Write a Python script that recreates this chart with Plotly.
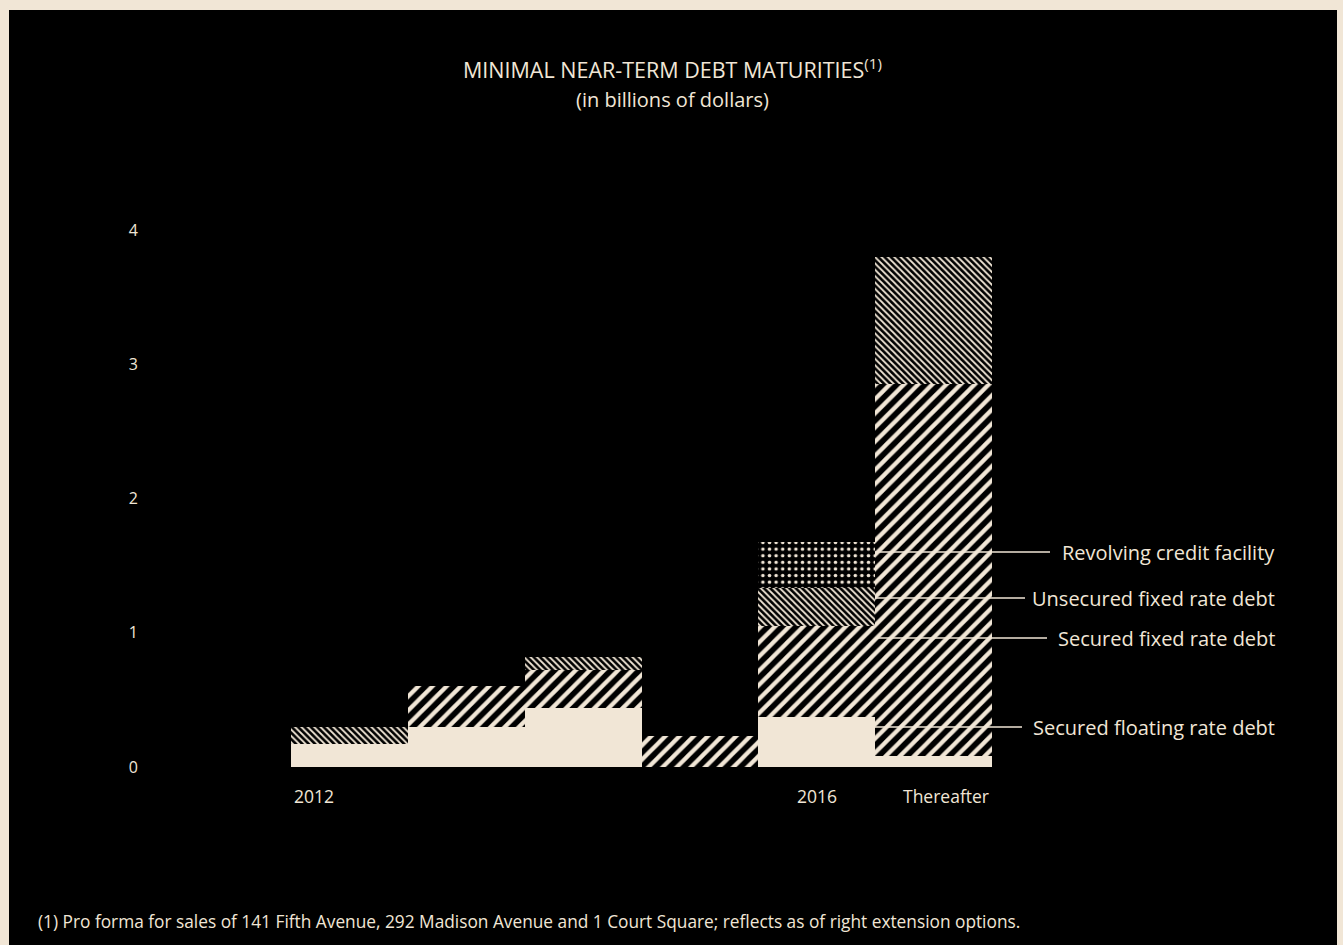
import plotly.graph_objects as go

# Debt maturity schedule, in billions of dollars
years = ["2012", "2013", "2014", "2015", "2016", "Thereafter"]
secured_floating = [0.17, 0.30, 0.44, 0.0, 0.37, 0.08]
secured_fixed = [0.0, 0.30, 0.28, 0.23, 0.68, 2.77]
unsecured_fixed = [0.13, 0.0, 0.10, 0.0, 0.28, 0.95]
revolving_credit = [0.0, 0.0, 0.0, 0.0, 0.35, 0.0]

series_names = [
    "Secured floating rate debt",
    "Secured fixed rate debt",
    "Unsecured fixed rate debt",
    "Revolving credit facility",
]
y_ticks = [0, 1, 2, 3, 4]

CREAM = "#F1E6D6"
BLACK = "#000000"
FONT = "Open Sans"

W, H = 1343, 945
L, R, T, B = 291, 351, 163, 178
PW, PH = W - L - R, H - T - B


def px_to_paper_x(px):
    return (px - L) / PW


def px_to_paper_y(py):
    return (H - B - py) / PH


fig = go.Figure()

fig.add_trace(go.Bar(
    x=years, y=secured_floating, name=series_names[0],
    marker=dict(color=CREAM, line=dict(width=0)),
))
fig.add_trace(go.Bar(
    x=years, y=secured_fixed, name=series_names[1],
    marker=dict(color=BLACK, line=dict(width=0),
                pattern=dict(shape="/", fgcolor=CREAM, bgcolor=BLACK,
                             size=10, solidity=0.42, fillmode="replace")),
))
fig.add_trace(go.Bar(
    x=years, y=unsecured_fixed, name=series_names[2],
    marker=dict(color=BLACK, line=dict(width=0),
                pattern=dict(shape="\\", fgcolor=CREAM, bgcolor=BLACK,
                             size=4.5, solidity=0.4, fillmode="replace")),
))
fig.add_trace(go.Bar(
    x=years, y=revolving_credit, name=series_names[3],
    marker=dict(color=BLACK, line=dict(width=0),
                pattern=dict(shape=".", fgcolor=CREAM, bgcolor=BLACK,
                             size=6.6, solidity=0.22, fillmode="replace")),
))

# Leader lines from the last column out to the series labels
label_rows = [
    (series_names[3], 552, 1050),
    (series_names[2], 598, 1025),
    (series_names[1], 638, 1047),
    (series_names[0], 727, 1022),
]
shapes = [
    # black panel inside the cream frame
    dict(type="rect", xref="paper", yref="paper", layer="below",
         x0=px_to_paper_x(9), x1=px_to_paper_x(1337),
         y0=px_to_paper_y(H + 5), y1=px_to_paper_y(10),
         fillcolor=BLACK, line=dict(width=0)),
]
annotations = []
for name, py, x_end in label_rows:
    shapes.append(dict(type="line", xref="paper", yref="paper", layer="above",
                       x0=px_to_paper_x(875), x1=px_to_paper_x(x_end),
                       y0=px_to_paper_y(py), y1=px_to_paper_y(py),
                       line=dict(color=CREAM, width=1.3)))
    annotations.append(dict(text=name, xref="paper", yref="paper",
                            x=px_to_paper_x(1277), y=px_to_paper_y(py),
                            xanchor="right", yanchor="middle", showarrow=False,
                            font=dict(family=FONT, size=20, color=CREAM)))

# Category labels below the columns
for label, anchor, shift in [("2012", "left", 1), ("2016", "center", 0), ("Thereafter", "right", -1)]:
    idx = years.index(label)
    xpos = idx - 0.5 if anchor == "left" else (idx + 0.5 if anchor == "right" else idx)
    annotations.append(dict(text=label, xref="x", yref="paper", x=xpos, xshift=shift,
                            y=px_to_paper_y(796), xanchor=anchor, yanchor="middle",
                            showarrow=False,
                            font=dict(family=FONT, size=17.5, color=CREAM)))

annotations.append(dict(
    text="MINIMAL NEAR-TERM DEBT MATURITIES<sup>(1)</sup>",
    xref="paper", yref="paper", x=px_to_paper_x(672), y=px_to_paper_y(86),
    xanchor="center", yanchor="bottom", showarrow=False,
    font=dict(family=FONT, size=21.5, color=CREAM)))
annotations.append(dict(
    text="(in billions of dollars)",
    xref="paper", yref="paper", x=px_to_paper_x(672), y=px_to_paper_y(84),
    xanchor="center", yanchor="top", showarrow=False,
    font=dict(family=FONT, size=20, color=CREAM)))
annotations.append(dict(
    text="(1) Pro forma for sales of 141 Fifth Avenue, 292 Madison Avenue and 1 Court Square; "
         "reflects as of right extension options.",
    xref="paper", yref="paper", x=px_to_paper_x(36), y=px_to_paper_y(921),
    xanchor="left", yanchor="middle", showarrow=False,
    font=dict(family=FONT, size=17.3, color=CREAM)))

fig.update_layout(
    width=W, height=H,
    margin=dict(l=L, r=R, t=T, b=B, pad=0),
    paper_bgcolor=CREAM, plot_bgcolor=BLACK,
    barmode="stack", bargap=0,
    showlegend=False,
    shapes=shapes, annotations=annotations,
    font=dict(family=FONT, color=CREAM),
    xaxis=dict(range=[-0.5, 5.5], showticklabels=False, showgrid=False,
               zeroline=False, showline=False, ticks=""),
    yaxis=dict(range=[0, 4.5], tickvals=y_ticks, ticktext=[str(v) for v in y_ticks],
               showgrid=False, zeroline=False, showline=False, ticks="",
               ticklabelstandoff=152,
               tickfont=dict(family=FONT, size=16, color=CREAM)),
)

fig.write_html("out.html")
